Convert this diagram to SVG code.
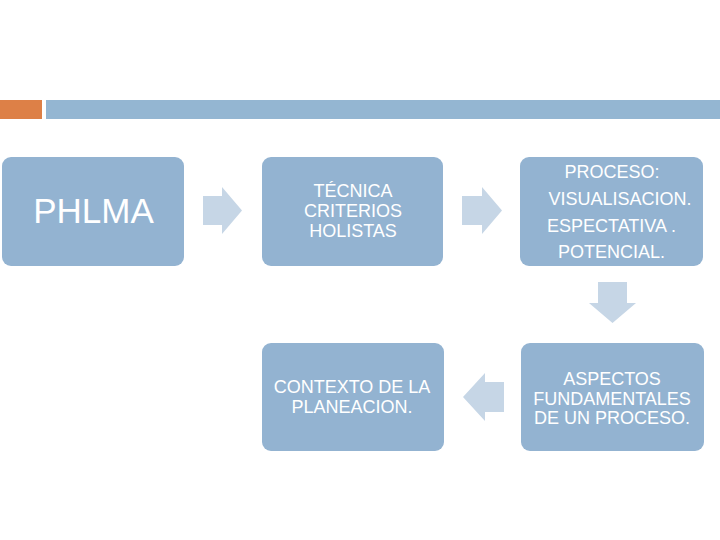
<svg xmlns="http://www.w3.org/2000/svg" width="720" height="540" viewBox="0 0 720 540">
<style>
.box{fill:#93B3D1}
.arr{fill:#C6D6E6}
text{font-family:"Liberation Sans",Arial,sans-serif;fill:#FFFFFF;text-anchor:middle}
.s{font-size:18px}
</style>
<rect width="720" height="540" fill="#FFFFFF"/>
<rect x="0" y="100" width="42" height="19" fill="#DD8047"/>
<rect x="46" y="100" width="674" height="19" fill="#94B6D2"/>
<g id="connectors">
<polygon class="arr" points="203,196 222,196 222,187 242,210.5 222,234 222,225 203,225"/>
<polygon class="arr" points="462,196 482,196 482,187 502,210.5 482,234 482,225 462,225"/>
<polygon class="arr" points="598,282 627,282 627,303 636,303 612.5,323 589,303 598,303"/>
<polygon class="arr" points="504,382 485,382 485,373 463,397 485,421 485,412 504,412"/>
</g>
<g id="n1">
<rect class="box" x="2" y="157" width="182" height="109" rx="9"/>
<text x="93.5" y="223" font-size="35">PHLMA</text>
</g>
<g id="n2">
<rect class="box" x="262" y="157" width="181" height="109" rx="9"/>
<text class="s" x="353" y="197">TÉCNICA</text>
<text class="s" x="353" y="217">CRITERIOS</text>
<text class="s" x="353" y="237">HOLISTAS</text>
</g>
<g id="n3">
<rect class="box" x="520" y="157" width="183" height="109" rx="9"/>
<text class="s" x="612" y="178">PROCESO:</text>
<text class="s" x="620" y="205">VISUALISACION.</text>
<text class="s" x="611.5" y="232">ESPECTATIVA .</text>
<text class="s" x="611.5" y="258">POTENCIAL.</text>
</g>
<g id="n4">
<rect class="box" x="521" y="343" width="183" height="108" rx="9"/>
<text class="s" x="612" y="385">ASPECTOS</text>
<text class="s" x="612" y="405">FUNDAMENTALES</text>
<text class="s" x="612" y="424">DE UN PROCESO.</text>
</g>
<g id="n5">
<rect class="box" x="262" y="343" width="182" height="108" rx="9"/>
<text class="s" x="352" y="393">CONTEXTO DE LA</text>
<text class="s" x="352" y="413">PLANEACION.</text>
</g>
</svg>
